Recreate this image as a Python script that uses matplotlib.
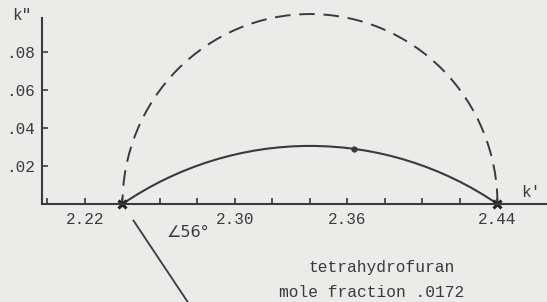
import numpy as np
import matplotlib
matplotlib.use("Agg")
import matplotlib.pyplot as plt
from matplotlib.patches import Arc

# ---- data ----
k_inf = 2.24          # high-frequency intercept on k' axis
k_0 = 2.44            # static intercept on k' axis
angle_deg = 56        # angle of solid arc centre line
point_kp = [2.24, 2.3635, 2.44]
point_kpp = [0.0, 0.029, 0.0]
x_ticks = [2.20, 2.22, 2.24, 2.26, 2.28, 2.30, 2.32, 2.34, 2.36, 2.38, 2.40, 2.42, 2.44]
x_labels = ["", "2.22", "", "", "", "2.30", "", "", "2.36", "", "", "", "2.44"]
y_ticks = [0.02, 0.04, 0.06, 0.08]
y_labels = [".02", ".04", ".06", ".08"]
title_lines = ["tetrahydrofuran", "mole fraction .0172"]

bg = "#ebebea"
ink = "#3a3a3a"
mono = ["Liberation Mono", "DejaVu Sans Mono"]

fig = plt.figure(figsize=(5.47, 3.02), dpi=100, facecolor=bg)
ax = fig.add_axes([0, 0, 1, 1], facecolor=bg)
ax.set_xlim(2.1747, 2.4664)
ax.set_ylim(-0.0516, 0.1074)

# axes styling
for s in ["top", "right"]:
    ax.spines[s].set_visible(False)
x_left = 2.1971
ax.spines["left"].set_position(("data", x_left))
ax.spines["bottom"].set_position(("data", 0))
ax.spines["left"].set_bounds(0, 0.098)
ax.spines["bottom"].set_bounds(x_left, 2.4664)
for s in ["left", "bottom"]:
    ax.spines[s].set_color(ink)
    ax.spines[s].set_linewidth(1.5)

ax.set_xticks(x_ticks)
ax.set_xticklabels(x_labels)
ax.set_yticks(y_ticks)
ax.set_yticklabels(y_labels)
ax.tick_params(direction="in", length=4, width=1.2, color=ink, labelcolor=ink,
               labelsize=11.5)
ax.tick_params(axis="x", pad=6)
ax.tick_params(axis="y", pad=5)
for lbl in ax.get_xticklabels() + ax.get_yticklabels():
    lbl.set_family(mono)

# dashed semicircle (Debye)
center = (k_inf + k_0) / 2
half = (k_0 - k_inf) / 2
ax.add_patch(Arc((center, 0), 2 * half, 2 * half, theta1=0, theta2=180,
                 color=ink, lw=1.4, ls=(0, (8, 4.5))))

# solid depressed arc
a = np.deg2rad(angle_deg)
cy = -half * np.tan(a)
R = half / np.cos(a)
th1 = np.rad2deg(np.arctan2(-cy, half))
ax.add_patch(Arc((center, cy), 2 * R, 2 * R, theta1=th1, theta2=180 - th1,
                 color=ink, lw=1.5))

# radial line toward arc centre
t = np.array([0.0105, 0.075])
ax.plot(k_inf + t * np.cos(a), -t * np.sin(a), color=ink, lw=1.3)

# points
ax.plot(point_kp[1], point_kpp[1], "o", color=ink, ms=3.5)
ax.plot([point_kp[0], point_kp[2]], [point_kpp[0], point_kpp[2]], "x",
        color="#222222", ms=6, mew=2.2)

# labels
ax.text(2.1865, 0.0995, 'k"', family=mono, fontsize=11.5, color=ink,
        ha="center", va="center")
ax.text(2.4575, 0.0058, "k'", family=mono, fontsize=11.5, color=ink,
        ha="center", va="center")
ax.text(2.2635, -0.0152, "\u222056\u00b0", fontsize=11.5, color=ink,
        ha="left", va="center", family=["DejaVu Sans"])
ax.text(2.378, -0.0335, title_lines[0], family=mono, fontsize=11.7, color=ink,
        ha="center", va="center")
ax.text(2.373, -0.0465, title_lines[1], family=mono, fontsize=11.7, color=ink,
        ha="center", va="center")

fig.savefig("out.png", dpi=100, facecolor=bg)
